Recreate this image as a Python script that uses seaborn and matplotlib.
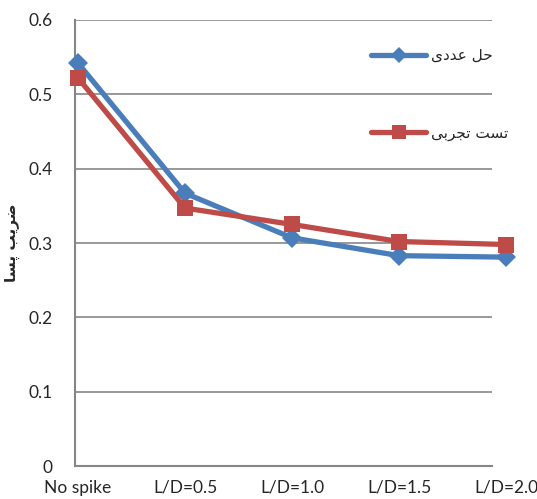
import numpy as np
import pandas as pd
import matplotlib
matplotlib.use("Agg")
import matplotlib.pyplot as plt
import seaborn as sns

categories = ["No spike", "L/D=0.5", "L/D=1.0", "L/D=1.5", "L/D=2.0"]
numerical = [0.542, 0.367, 0.307, 0.283, 0.281]
experimental = [0.522, 0.347, 0.325, 0.302, 0.298]

# Persian labels, pre-shaped (presentation forms, visual order)
lbl_num = "\uFBFC\uFEA9\uFEAA\uFECB \uFEDE\uFEA3"          # حل عددی
lbl_exp = "\uFBFD\uFE91\uFEAE\uFEA0\uFE97 \uFE96\uFEB4\uFE97"  # تست تجربی
lbl_y = "\uFE8E\uFEB4\uFB58 \uFE90\uFBFE\uFEAE\uFEBF"      # ضریب پسا

df = pd.DataFrame({
    "x": list(range(len(categories))) * 2,
    "v": numerical + experimental,
    "s": [lbl_num] * 5 + [lbl_exp] * 5,
})

sns.set_style("white")
plt.rcParams['font.family'] = ['Lato', 'DejaVu Sans']

fig = plt.figure(figsize=(5.37, 4.99), dpi=100)
ax = fig.add_axes([0.1397, 0.066, 0.8026, 0.894])

sns.lineplot(data=df, x="x", y="v", hue="s", style="s",
             palette={lbl_num: "#4A7EBB", lbl_exp: "#BE4B48"},
             markers={lbl_num: "D", lbl_exp: "s"},
             dashes=False, linewidth=3.8, markersize=11,
             markeredgewidth=0, ax=ax, zorder=3)

for ln in ax.lines:
    ln.set_clip_on(False)
ax.lines[0].set_markersize(10)
ax.lines[1].set_markersize(12)

yt = np.arange(0, 0.61, 0.1)
ax.set_xticks(range(len(categories)))
ax.set_xticklabels(categories)
ax.set_yticks(yt)
ax.set_yticklabels(["0", "0.1", "0.2", "0.3", "0.4", "0.5", "0.6"])
ax.set_xlim(-0.028, 4.0)
ax.set_ylim(0, 0.6)
ax.tick_params(axis="both", labelsize=12.5, length=0)
ax.tick_params(axis="x", pad=10)
ax.tick_params(axis="y", pad=16)

# plot area ends before the last category (as in the original)
x_end = 3.87
ax.hlines(yt[1:], -0.028, x_end, color="#868686", linewidth=1.2, zorder=1)
for sp in ["top", "right"]:
    ax.spines[sp].set_visible(False)
for sp in ["left", "bottom"]:
    ax.spines[sp].set_color("#868686")
    ax.spines[sp].set_linewidth(1.5)
ax.spines["bottom"].set_bounds(-0.028, x_end)

ax.set_xlabel("")
ax.set_ylabel(lbl_y, fontsize=11, fontweight="bold",
              family=['DejaVu Sans'], labelpad=6)

leg = ax.legend(loc="upper left", bbox_to_anchor=(0.655, 0.968),
                frameon=False, labelspacing=4.1,
                handlelength=3.6, handletextpad=0.3,
                prop={'family': ['DejaVu Sans'], 'size': 11})
leg.legend_handles[0].set_markersize(8)
leg.legend_handles[1].set_markersize(10)

fig.savefig("out.png", dpi=100)
